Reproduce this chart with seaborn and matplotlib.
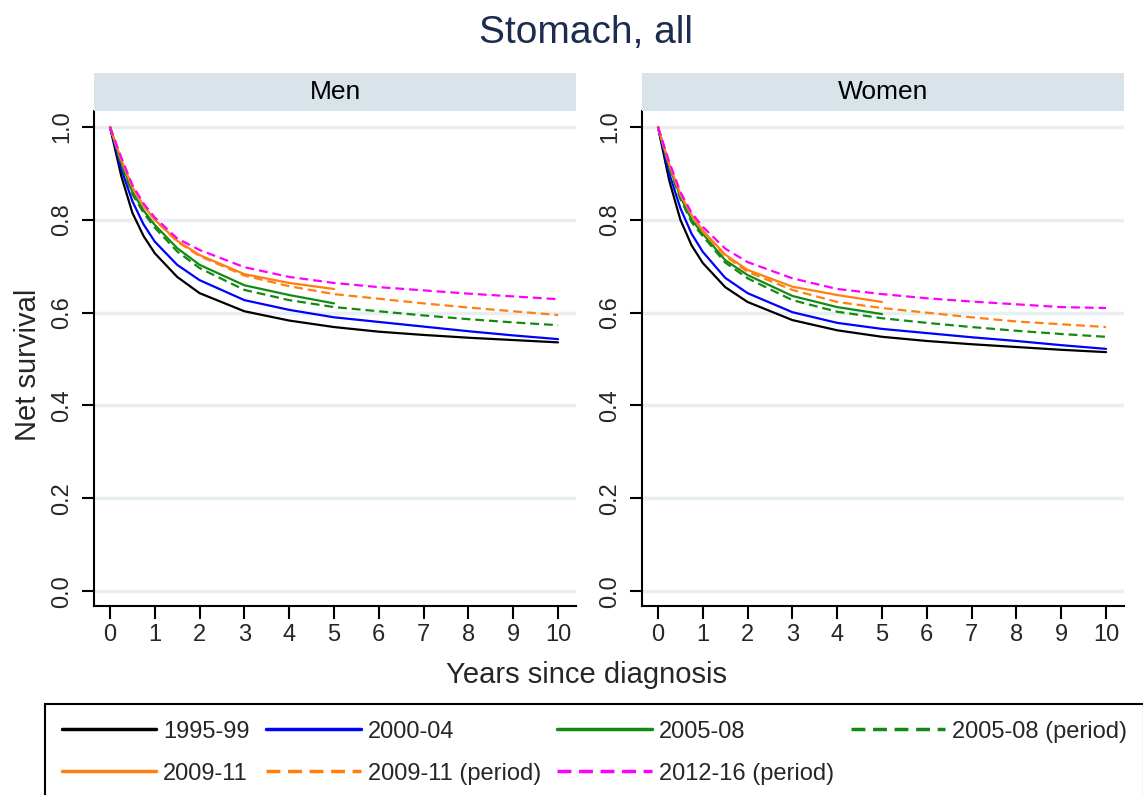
import pandas as pd
import matplotlib.pyplot as plt
import seaborn as sns

# Data (net survival by years since diagnosis)
years = [0, 0.25, 0.5, 0.75, 1, 1.5, 2, 3, 4, 5, 6, 7, 8, 9, 10]
years_5 = years[:10]

labels = ["1995-99", "2000-04", "2005-08", "2005-08 (period)",
          "2009-11", "2009-11 (period)", "2012-16 (period)"]

men_1995_99 = [1.0, 0.895, 0.815, 0.765, 0.728, 0.677, 0.642, 0.603, 0.583, 0.569, 0.559, 0.552, 0.546, 0.541, 0.536]
men_2000_04 = [1.0, 0.91, 0.84, 0.79, 0.753, 0.703, 0.670, 0.627, 0.606, 0.590, 0.580, 0.570, 0.560, 0.551, 0.543]
men_2005_08 = [1.0, 0.925, 0.86, 0.82, 0.789, 0.739, 0.703, 0.659, 0.638, 0.620]
men_2005_08_p = [1.0, 0.92, 0.855, 0.815, 0.783, 0.732, 0.696, 0.649, 0.627, 0.612, 0.603, 0.594, 0.586, 0.579, 0.573]
men_2009_11 = [1.0, 0.93, 0.87, 0.83, 0.80, 0.755, 0.724, 0.683, 0.664, 0.651]
men_2009_11_p = [1.0, 0.93, 0.87, 0.83, 0.80, 0.753, 0.722, 0.680, 0.657, 0.640, 0.630, 0.620, 0.611, 0.603, 0.595]
men_2012_16_p = [1.0, 0.935, 0.875, 0.835, 0.805, 0.76, 0.735, 0.698, 0.677, 0.664, 0.655, 0.648, 0.641, 0.635, 0.629]

women_1995_99 = [1.0, 0.885, 0.80, 0.745, 0.707, 0.655, 0.623, 0.584, 0.562, 0.548, 0.539, 0.532, 0.526, 0.520, 0.515]
women_2000_04 = [1.0, 0.90, 0.825, 0.77, 0.731, 0.675, 0.642, 0.601, 0.578, 0.565, 0.556, 0.547, 0.539, 0.530, 0.522]
women_2005_08 = [1.0, 0.915, 0.85, 0.80, 0.77, 0.713, 0.681, 0.636, 0.612, 0.597]
women_2005_08_p = [1.0, 0.912, 0.845, 0.795, 0.765, 0.708, 0.674, 0.627, 0.602, 0.588, 0.578, 0.569, 0.561, 0.554, 0.548]
women_2009_11 = [1.0, 0.92, 0.855, 0.81, 0.777, 0.725, 0.692, 0.656, 0.638, 0.623]
women_2009_11_p = [1.0, 0.92, 0.855, 0.81, 0.775, 0.722, 0.688, 0.649, 0.623, 0.610, 0.600, 0.590, 0.581, 0.575, 0.569]
women_2012_16_p = [1.0, 0.925, 0.86, 0.815, 0.785, 0.738, 0.709, 0.674, 0.651, 0.640, 0.631, 0.624, 0.618, 0.612, 0.610]

men_series = [men_1995_99, men_2000_04, men_2005_08, men_2005_08_p,
              men_2009_11, men_2009_11_p, men_2012_16_p]
women_series = [women_1995_99, women_2000_04, women_2005_08, women_2005_08_p,
                women_2009_11, women_2009_11_p, women_2012_16_p]

# Long-form table
rows = []
for sex, series in [("Men", men_series), ("Women", women_series)]:
    for lab, vals in zip(labels, series):
        xs = years if len(vals) == len(years) else years_5
        for x, v in zip(xs, vals):
            rows.append({"sex": sex, "cohort": lab, "years": x, "survival": v})
df = pd.DataFrame(rows)

palette = {"1995-99": "black", "2000-04": "#0000ff", "2005-08": "#138a13",
           "2005-08 (period)": "#138a13", "2009-11": "#ff8010",
           "2009-11 (period)": "#ff8010", "2012-16 (period)": "#ff00ff"}
dashes = {"1995-99": "", "2000-04": "", "2005-08": "", "2005-08 (period)": (4, 2.2),
          "2009-11": "", "2009-11 (period)": (4, 2.2), "2012-16 (period)": (4, 2.2)}

sns.set_style("white")
plt.rcParams["font.family"] = ["Liberation Sans", "DejaVu Sans"]

W, H = 1143, 795
fig = plt.figure(figsize=(W / 100, H / 100), dpi=100)

panel_left = [94, 642]
for sex, left in zip(["Men", "Women"], panel_left):
    ax = fig.add_axes([left / W, 1 - 606 / H, 482 / W, 495 / H])
    sns.lineplot(data=df[df["sex"] == sex], x="years", y="survival",
                 hue="cohort", style="cohort", palette=palette, dashes=dashes,
                 hue_order=labels, style_order=labels, sort=False,
                 errorbar=None, linewidth=1.6, legend=(sex == "Men"), ax=ax)
    ax.set_xlim(-0.357, 10.40)
    ax.set_ylim(-0.032, 1.0345)
    ax.set_xticks(range(0, 11))
    ax.set_yticks([0.0, 0.2, 0.4, 0.6, 0.8, 1.0])
    ax.set_yticklabels(["0.0", "0.2", "0.4", "0.6", "0.8", "1.0"],
                       rotation=90, va="center")
    ax.tick_params(axis="both", labelsize=17, length=9, width=1.5,
                   direction="out", color="black", pad=6,
                   bottom=True, left=True)
    ax.tick_params(axis="x", pad=4)
    ax.grid(axis="y", color="#e8eff0", linewidth=2.5)
    ax.set_axisbelow(True)
    for s in ["top", "right"]:
        ax.spines[s].set_visible(False)
    for s in ["left", "bottom"]:
        ax.spines[s].set_color("black")
        ax.spines[s].set_linewidth(1.5)
    ax.set_xlabel("")
    ax.set_ylabel("")

    # facet strip
    strip = fig.add_axes([left / W, 1 - 111 / H, 482 / W, 38 / H])
    strip.set_facecolor("#d9e4ea")
    strip.set_xticks([])
    strip.set_yticks([])
    for s in strip.spines.values():
        s.set_visible(False)
    strip.text(0.5, 0.5, sex, ha="center", va="center", fontsize=19,
               color="black", transform=strip.transAxes)

    if sex == "Men":
        handles, hl = ax.get_legend_handles_labels()
        ax.get_legend().remove()

fig.text(0.513, 1 - 33 / H, "Stomach, all", ha="center", va="center",
         fontsize=28, color="#1c2c50")
fig.text(586 / W, 1 - 675 / H, "Years since diagnosis", ha="center",
         va="center", fontsize=21)
fig.text(28 / W, 1 - 365 / H, "Net survival", ha="center", va="center",
         rotation=90, fontsize=21)

# legend filled row by row, as in the original
order = [0, 4, 1, 5, 2, 6, 3]
handles = [handles[i] for i in order]
hl = [hl[i] for i in order]
for h in handles:
    h.set_linewidth(2.5)
leg = fig.legend(handles, hl, loc="upper left",
                 bbox_to_anchor=(45 / W, 1 - 704 / H), ncol=4, fontsize=17,
                 frameon=True, fancybox=False, handlelength=4.0,
                 handletextpad=0.3, columnspacing=0.7, borderpad=0.7,
                 labelspacing=0.85, borderaxespad=0)
leg.get_frame().set_edgecolor("black")
leg.get_frame().set_linewidth(1.5)
leg.get_frame().set_alpha(1)

plt.savefig("out.png", dpi=100)
